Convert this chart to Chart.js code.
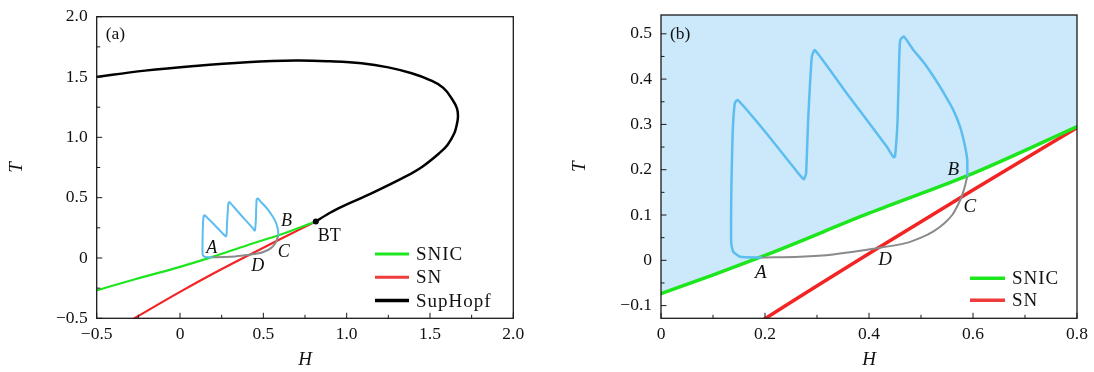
<!DOCTYPE html>
<html>
<head>
<meta charset="utf-8">
<script src="https://cdn.jsdelivr.net/npm/chart.js@4.4.0/dist/chart.umd.min.js"></script>
<style>
  body { margin: 0; background: #fff; }
  #wrap { position: relative; width: 1094px; height: 372px; }
  #chartA { position: absolute; left: 0; top: 0; }
  #chartB { position: absolute; left: 547px; top: 0; }
</style>
</head>
<body>
<div id="wrap">
  <canvas id="chartA" width="547" height="372"></canvas>
  <canvas id="chartB" width="547" height="372"></canvas>
</div>
<script>
// Curve data (H, T)
const hopfH = [-0.52, -0.21, 0.09, 0.4, 0.69, 0.9, 1.09, 1.25, 1.39, 1.5, 1.58, 1.636, 1.662, 1.668, 1.66, 1.646, 1.605, 1.555, 1.454, 1.352, 1.149, 0.947, 0.88, 0.815];
const hopfT = [1.497, 1.553, 1.592, 1.622, 1.636, 1.630, 1.614, 1.58, 1.531, 1.475, 1.41, 1.31, 1.24, 1.17, 1.10, 1.034, 0.937, 0.868, 0.757, 0.674, 0.536, 0.410, 0.358, 0.303];

const snicH = [-0.52, -0.27, 0, 0.2, 0.4, 0.6, 0.815];
const snicT = [-0.277, -0.176, -0.0735, 0.011, 0.104, 0.192, 0.303];

const snH = [-0.3, 0, 0.2, 0.415, 0.6, 0.815];
const snT = [-0.521, -0.281, -0.129, 0.0255, 0.155, 0.303];

// limit cycle branch A -> B (blue)
const cycleH = [0.194, 0.152, 0.139, 0.135, 0.135, 0.136, 0.138, 0.142, 0.1475, 0.203, 0.267, 0.275, 0.279, 0.283, 0.290, 0.296, 0.357, 0.434, 0.447, 0.450, 0.455, 0.458, 0.460, 0.467, 0.485, 0.505, 0.525, 0.545, 0.562, 0.575, 0.584, 0.589, 0.589];
const cycleT = [0.006, 0.008, 0.019, 0.0375, 0.133, 0.199, 0.288, 0.347, 0.354, 0.280, 0.188, 0.179, 0.192, 0.31, 0.449, 0.464, 0.369, 0.251, 0.2275, 0.229, 0.31, 0.442, 0.486, 0.494, 0.465, 0.437, 0.404, 0.367, 0.332, 0.295, 0.255, 0.221, 0.185];

// branch B -> A (gray)
const homH = [0.589, 0.584, 0.578, 0.570, 0.560, 0.545, 0.524, 0.500, 0.4725, 0.415, 0.331, 0.267, 0.194];
const homT = [0.185, 0.162, 0.140, 0.120, 0.100, 0.082, 0.064, 0.050, 0.0385, 0.0265, 0.013, 0.008, 0.006];

const btH = [0.815];
const btT = [0.303];

// Tick values
const aMajor = [-0.5, 0, 0.5, 1.0, 1.5, 2.0];
const aMinor = [-0.25, 0.25, 0.75, 1.25, 1.75];
const bMajorX = [0, 0.2, 0.4, 0.6, 0.8];
const bMinorX = [0.1, 0.3, 0.5, 0.7];
const bMajorY = [-0.1, 0, 0.1, 0.2, 0.3, 0.4, 0.5];
const bMinorY = [-0.05, 0.05, 0.15, 0.25, 0.35, 0.45];

// Point annotations (data coordinates)
const labelsA = [
  { text: 'A', h: 0.191, t: 0.080, italic: true },
  { text: 'B', h: 0.639, t: 0.301, italic: true },
  { text: 'C', h: 0.623, t: 0.044, italic: true },
  { text: 'D', h: 0.467, t: -0.072, italic: true },
  { text: 'BT', h: 0.896, t: 0.182, italic: false }
];
const labelsB = [
  { text: 'A', h: 0.192, t: -0.029, italic: true },
  { text: 'B', h: 0.562, t: 0.199, italic: true },
  { text: 'C', h: 0.594, t: 0.118, italic: true },
  { text: 'D', h: 0.431, t: 0.001, italic: true }
];

const SERIF = "'Liberation Serif', 'Times New Roman', serif";
const GREEN = '#1ee61e';
const RED = '#f22424';
const BLUE = '#5cbdf0';
const GRAY = '#8a8a8a';

const toXY = (hs, ts) => hs.map((h, i) => ({ x: h, y: ts[i] }));
const near = (list, v) => list.some(m => Math.abs(m - v) < 1e-9);

function fmtTick(v) {
  if (Math.abs(v) < 1e-9) return '0';
  return (v < 0 ? '\u2212' : '') + Math.abs(v).toFixed(1);
}

function makeScale(isX, min, max, majors, minors, size, titlePad) {
  return {
    type: 'linear',
    position: isX ? 'bottom' : 'left',
    min: min,
    max: max,
    grid: { display: false, drawTicks: false },
    border: { display: false },
    afterBuildTicks: scale => {
      scale.ticks = majors.concat(minors).sort((a, b) => a - b).map(v => ({ value: v }));
    },
    afterFit: scale => {
      if (isX) scale.height = size; else scale.width = size;
      scale.paddingLeft = 0; scale.paddingRight = 0;
      scale.paddingTop = 0; scale.paddingBottom = 0;
    },
    ticks: {
      autoSkip: false,
      maxRotation: 0,
      padding: isX ? 6 : 9,
      color: '#111',
      font: { family: SERIF, size: 17.5 },
      callback: v => near(majors, v) ? fmtTick(v) : ''
    },
    title: {
      display: true,
      text: isX ? 'H' : 'T',
      color: '#111',
      font: { family: SERIF, size: 19, style: 'italic' },
      padding: isX ? { top: 0, bottom: titlePad } : { top: titlePad, bottom: 0 }
    }
  };
}

// Frame, inward ticks, panel tag, point labels and legend
const panelDeco = {
  id: 'panelDeco',
  afterDraw(chart, args, opts) {
    const { ctx, chartArea: ca, scales } = chart;
    ctx.save();
    ctx.strokeStyle = '#1a1a1a';
    ctx.lineWidth = 1;
    ctx.beginPath();
    scales.x.ticks.forEach(t => {
      const px = scales.x.getPixelForValue(t.value);
      const len = near(opts.xMajor, t.value) ? 5.5 : 3.5;
      ctx.moveTo(px, ca.bottom);
      ctx.lineTo(px, ca.bottom - len);
    });
    scales.y.ticks.forEach(t => {
      const py = scales.y.getPixelForValue(t.value);
      const len = near(opts.yMajor, t.value) ? 5.5 : 3.5;
      ctx.moveTo(ca.left, py);
      ctx.lineTo(ca.left + len, py);
    });
    ctx.stroke();

    ctx.lineWidth = 1.3;
    ctx.strokeRect(ca.left, ca.top, ca.right - ca.left, ca.bottom - ca.top);

    ctx.fillStyle = '#111';
    ctx.textBaseline = 'middle';
    ctx.textAlign = 'left';
    ctx.font = `17.5px ${SERIF}`;
    ctx.fillText(opts.tag, ca.left + 9, 34);

    ctx.textAlign = 'center';
    opts.labels.forEach(l => {
      ctx.font = `${l.italic ? 'italic ' : ''}${opts.labelSize}px ${SERIF}`;
      ctx.fillText(l.text, scales.x.getPixelForValue(l.h), scales.y.getPixelForValue(l.t));
    });

    ctx.textAlign = 'left';
    ctx.font = `19px ${SERIF}`;
    if ('letterSpacing' in ctx) ctx.letterSpacing = '1px';
    opts.legend.forEach((item, i) => {
      const y = opts.legendY + i * opts.legendGap;
      ctx.strokeStyle = item.color;
      ctx.lineWidth = item.width;
      ctx.beginPath();
      ctx.moveTo(opts.legendX, y);
      ctx.lineTo(opts.legendX + opts.legendLen, y);
      ctx.stroke();
      ctx.fillText(item.text, opts.legendX + opts.legendLen + 7, y + 1);
    });
    ctx.restore();
  }
};

function lineSet(label, hs, ts, color, width, order, extra) {
  return Object.assign({
    label: label,
    data: toXY(hs, ts),
    borderColor: color,
    borderWidth: width,
    pointRadius: 0,
    fill: false,
    order: order
  }, extra || {});
}

// Panel (a)
new Chart(document.getElementById('chartA'), {
  type: 'line',
  data: {
    datasets: [
      lineSet('BT', btH, btT, '#000', 0, 0, { showLine: false, pointRadius: 3, pointBackgroundColor: '#000', pointBorderWidth: 0 }),
      lineSet('cycle', cycleH, cycleT, BLUE, 2, 1, { tension: 0.15 }),
      lineSet('hom', homH, homT, GRAY, 2, 2, { tension: 0.3 }),
      lineSet('SupHopf', hopfH, hopfT, '#000', 2.5, 3, { tension: 0.4 }),
      lineSet('SNIC', snicH, snicT, GREEN, 2.2, 4, { cubicInterpolationMode: 'monotone' }),
      lineSet('SN', snH, snT, RED, 2.2, 5, { cubicInterpolationMode: 'monotone' })
    ]
  },
  options: {
    responsive: false,
    animation: false,
    layout: { padding: { top: 16.7, right: 33.7, bottom: 0, left: 0 } },
    plugins: {
      legend: { display: false },
      tooltip: { enabled: false },
      panelDeco: {
        tag: '(a)',
        xMajor: aMajor,
        yMajor: aMajor,
        labels: labelsA,
        labelSize: 18,
        legend: [
          { text: 'SNIC', color: GREEN, width: 3 },
          { text: 'SN', color: '#ee3b3b', width: 3 },
          { text: 'SupHopf', color: '#000', width: 3.5 }
        ],
        legendX: 375,
        legendLen: 34,
        legendY: 254,
        legendGap: 23.3
      }
    },
    scales: {
      x: makeScale(true, -0.5, 2.0, aMajor, aMinor, 53.7, 0.6),
      y: makeScale(false, -0.5, 2.0, aMajor, aMinor, 96.7, 5.4)
    }
  },
  plugins: [panelDeco]
});

// Panel (b)
new Chart(document.getElementById('chartB'), {
  type: 'line',
  data: {
    datasets: [
      lineSet('cycle', cycleH, cycleT, BLUE, 2.5, 1, { tension: 0.15 }),
      lineSet('hom', homH, homT, GRAY, 2, 2, { tension: 0.3 }),
      lineSet('SNIC', snicH, snicT, GREEN, 3.5, 4, { cubicInterpolationMode: 'monotone' }),
      lineSet('SN', snH, snT, RED, 3.5, 5, { cubicInterpolationMode: 'monotone' }),
      lineSet('region', snicH, snicT, 'rgba(0,0,0,0)', 0, 10, { cubicInterpolationMode: 'monotone', fill: 'end', backgroundColor: '#cce9fb' })
    ]
  },
  options: {
    responsive: false,
    animation: false,
    layout: { padding: { top: 15, right: 17, bottom: 0, left: 0 } },
    plugins: {
      legend: { display: false },
      tooltip: { enabled: false },
      panelDeco: {
        tag: '(b)',
        xMajor: bMajorX,
        yMajor: bMajorY,
        labels: labelsB,
        labelSize: 19,
        legend: [
          { text: 'SNIC', color: GREEN, width: 3.5 },
          { text: 'SN', color: '#ee3b3b', width: 3.5 }
        ],
        legendX: 423,
        legendLen: 35,
        legendY: 278.3,
        legendGap: 22
      }
    },
    scales: {
      x: makeScale(true, 0, 0.8, bMajorX, bMinorX, 53.7, 0.6),
      y: makeScale(false, -0.128, 0.5415, bMajorY, bMinorY, 114, 22)
    }
  },
  plugins: [panelDeco]
});
</script>
</body>
</html>
